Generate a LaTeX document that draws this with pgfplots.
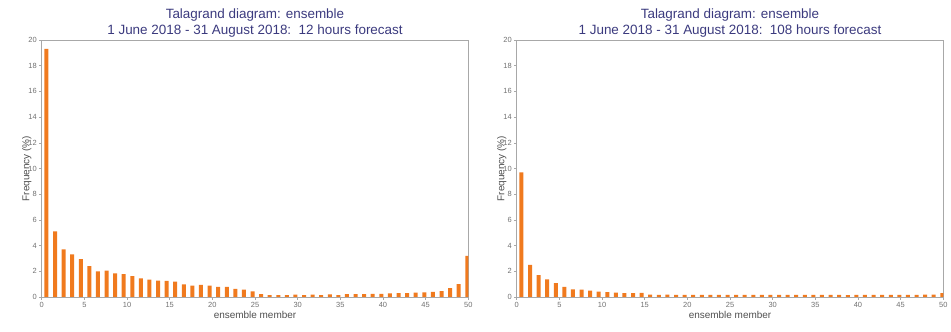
\documentclass[border=0pt]{standalone}
\usepackage{fontspec}
\setmainfont{Liberation Sans}
\usepackage{pgfplots}
\pgfplotsset{compat=1.18}
\usepackage{pgfplotstable}

\definecolor{barorange}{HTML}{F07A1E}
\definecolor{titleblue}{HTML}{3B3A7E}
\definecolor{axisgray}{HTML}{A8A8A8}
\definecolor{ticktext}{HTML}{707070}
\definecolor{labeltext}{HTML}{505050}

% Rank histogram, 12 h lead time (frequency in % per rank bin)
\pgfplotstableread{
x y
0.55 19.30
1.56 5.10
2.56 3.71
3.57 3.32
4.58 2.95
5.58 2.40
6.59 2.00
7.60 2.05
8.60 1.83
9.61 1.78
10.62 1.62
11.62 1.44
12.63 1.36
13.64 1.28
14.64 1.25
15.65 1.20
16.66 0.99
17.66 0.89
18.67 0.94
19.68 0.89
20.68 0.78
21.69 0.78
22.70 0.63
23.70 0.58
24.71 0.44
25.72 0.22
26.72 0.15
27.73 0.14
28.74 0.15
29.74 0.18
30.75 0.15
31.76 0.18
32.76 0.15
33.77 0.20
34.78 0.15
35.78 0.22
36.79 0.22
37.80 0.22
38.80 0.24
39.81 0.25
40.82 0.28
41.82 0.30
42.83 0.30
43.84 0.35
44.84 0.36
45.85 0.40
46.86 0.45
47.86 0.70
48.87 1.00
49.88 3.20
}\tblshort

% Rank histogram, 108 h lead time
\pgfplotstableread{
x y
0.55 9.70
1.56 2.50
2.56 1.70
3.57 1.37
4.58 1.08
5.58 0.79
6.59 0.60
7.60 0.58
8.60 0.50
9.61 0.42
10.62 0.37
11.62 0.34
12.63 0.30
13.64 0.30
14.64 0.32
15.65 0.18
16.66 0.17
17.66 0.18
18.67 0.17
19.68 0.17
20.68 0.16
21.69 0.17
22.70 0.16
23.70 0.17
24.71 0.16
25.72 0.17
26.72 0.16
27.73 0.16
28.74 0.17
29.74 0.16
30.75 0.16
31.76 0.17
32.76 0.16
33.77 0.16
34.78 0.16
35.78 0.16
36.79 0.17
37.80 0.16
38.80 0.15
39.81 0.16
40.82 0.17
41.82 0.17
42.83 0.16
43.84 0.17
44.84 0.16
45.85 0.17
46.86 0.17
47.86 0.18
48.87 0.19
49.88 0.30
}\tbllong

\pgfplotsset{
  talagrand/.style={
    width=426.6bp, height=257bp, scale only axis,
    xmin=0, xmax=50, ymin=0, ymax=20,
    xtick={0,5,...,50}, ytick={0,2,...,20},
    xtick pos=lower, ytick pos=left, tick align=outside,
    major tick length=2.5bp,
    axis line style={axisgray, line width=0.6bp},
    tick style={axisgray, line width=0.5bp},
    /pgf/number format/assume math mode=true,
    ticklabel style={font=\fontsize{7.5}{8}\selectfont, text=ticktext},
    xticklabel style={yshift=1bp},
    yticklabel style={xshift=1bp},
    xlabel={ensemble member},
    ylabel={Frequency (\%)},
    label style={font=\fontsize{10}{11}\selectfont, text=labeltext},
    xlabel style={at={(axis description cs:0.5,0)}, yshift=-18bp, anchor=center},
    % the y label is already turned by 90 degrees, so +yshift moves it left
    ylabel style={at={(axis description cs:0,0.5)}, yshift=15bp, anchor=center},
    title style={align=center, font=\fontsize{13.5}{16.5}\selectfont, text=titleblue,
                 at={(axis description cs:0.5,1)}, anchor=south, yshift=-7bp},
    ybar, bar width=4bp,
  },
}

\begin{document}
\begin{tikzpicture}
\path[use as bounding box] (-41.7bp,-35bp) rectangle (909.3bp,297bp);
\begin{axis}[talagrand, at={(0bp,0bp)}, anchor=south west,
  title={Talagrand diagram: ensemble\\1 June 2018 - 31 August 2018:\ \ 12 hours forecast}]
  \addplot[fill=barorange, draw=none] table[x=x, y=y] {\tblshort};
\end{axis}
\begin{axis}[talagrand, at={(475bp,0bp)}, anchor=south west,
  title={Talagrand diagram: ensemble\\1 June 2018 - 31 August 2018:\ \ 108 hours forecast}]
  \addplot[fill=barorange, draw=none] table[x=x, y=y] {\tbllong};
\end{axis}
\end{tikzpicture}
\end{document}
